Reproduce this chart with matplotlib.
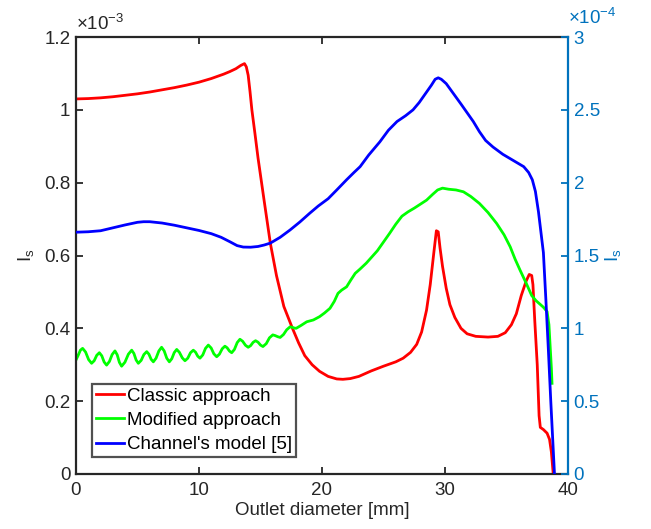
import matplotlib
matplotlib.use("Agg")
import matplotlib.pyplot as plt

plt.rcParams['font.family'] = ['Liberation Sans', 'DejaVu Sans']
plt.rcParams['mathtext.default'] = 'regular'

# ---- data (left-axis values in units of 1e-3, right-axis values in units of 1e-4) ----
classic_x = [0, 1, 2, 3, 4, 5, 6, 7, 8, 9, 10, 11, 12, 12.5, 13, 13.4, 13.7, 13.85,
             14.0, 14.15, 14.3, 14.55, 14.8, 15.3, 15.8, 16.3, 16.9, 17.6, 18.1, 18.6,
             19.2, 19.8, 20.5, 21.2, 21.7, 22.3, 23, 24, 25, 26, 26.6, 27.2, 27.7, 28.1,
             28.5, 28.8, 29.1, 29.3, 29.45, 29.6, 29.8, 30.1, 30.4, 30.8, 31.3, 31.8,
             32.5, 33.5, 34.3, 34.9, 35.4, 35.8, 36.2, 36.6, 36.85, 37.05, 37.15, 37.3,
             37.5, 37.65, 37.75, 38.0, 38.3, 38.5, 38.65, 38.8]
classic_y = [1.030, 1.031, 1.033, 1.036, 1.040, 1.044, 1.049, 1.055, 1.061, 1.068, 1.076,
             1.086, 1.098, 1.105, 1.113, 1.122, 1.127, 1.118, 1.095, 1.05, 1.0, 0.935,
             0.868, 0.75, 0.634, 0.545, 0.46, 0.40, 0.36, 0.325, 0.30, 0.282, 0.268,
             0.261, 0.260, 0.262, 0.268, 0.283, 0.296, 0.308, 0.318, 0.334, 0.356, 0.39,
             0.45, 0.52, 0.61, 0.668, 0.665, 0.62, 0.57, 0.51, 0.465, 0.43, 0.40, 0.385,
             0.378, 0.376, 0.378, 0.388, 0.41, 0.44, 0.49, 0.53, 0.548, 0.545, 0.52, 0.42,
             0.30, 0.16, 0.128, 0.122, 0.112, 0.095, 0.06, 0.0]

modified_x = [0, 0.18, 0.36, 0.54, 0.78, 1.03, 1.27, 1.48, 1.69, 1.9, 2.10, 2.29, 2.49,
              2.72, 2.94, 3.17, 3.35, 3.53, 3.71, 3.98, 4.26, 4.53, 4.71, 4.89, 5.07,
              5.30, 5.52, 5.75, 5.93, 6.11, 6.29, 6.51, 6.74, 6.96, 7.17, 7.38, 7.59,
              7.79, 7.99, 8.19, 8.41, 8.64, 8.86, 9.09, 9.31, 9.54, 9.72, 9.90, 10.08,
              10.31, 10.53, 10.76, 10.99, 11.21, 11.44, 11.66, 11.89, 12.11, 12.29,
              12.48, 12.66, 12.88, 13.11, 13.33, 13.55, 13.78, 14.0, 14.2, 14.4, 14.6,
              14.8, 15.0, 15.2, 15.47, 15.73, 16.0, 16.2, 16.4, 16.6, 16.87, 17.13, 17.4,
              17.57, 17.73, 17.9, 18.3, 18.76, 19.3, 19.8, 20.2, 20.65, 21.0, 21.3, 21.6,
              22.0, 22.35, 22.7, 23.1, 23.6, 24.0, 24.5, 25.0, 25.5, 26.0, 26.5, 27.0,
              27.5, 28.0, 28.5, 29.0, 29.4, 29.8, 30.3, 30.9, 31.5, 32.1, 32.8, 33.5,
              34.2, 34.8, 35.3, 35.7, 36.1, 36.6, 37.05, 37.4, 37.7, 38.0, 38.3, 38.45,
              38.55, 38.65, 38.7]
modified_y = [0.313, 0.326, 0.340, 0.345, 0.335, 0.314, 0.304, 0.311, 0.326, 0.333,
              0.3245, 0.3075, 0.299, 0.309, 0.328, 0.338, 0.3275, 0.3065, 0.296, 0.307,
              0.329, 0.340, 0.331, 0.313, 0.304, 0.312, 0.328, 0.336, 0.329, 0.315,
              0.308, 0.318, 0.338, 0.348, 0.338, 0.318, 0.308, 0.3165, 0.3335, 0.342,
              0.334, 0.319, 0.311, 0.318, 0.333, 0.340, 0.3345, 0.3235, 0.318, 0.327,
              0.345, 0.354, 0.346, 0.330, 0.322, 0.329, 0.344, 0.351, 0.3465, 0.3375,
              0.333, 0.342, 0.361, 0.370, 0.3645, 0.3535, 0.348, 0.3525, 0.3615, 0.366,
              0.362, 0.354, 0.350, 0.358, 0.374, 0.382, 0.380, 0.377, 0.375, 0.383,
              0.396, 0.404, 0.403, 0.401, 0.400, 0.408, 0.418, 0.423, 0.432, 0.442,
              0.455, 0.474, 0.496, 0.505, 0.514, 0.533, 0.551, 0.563, 0.579, 0.594,
              0.613, 0.637, 0.661, 0.686, 0.708, 0.720, 0.730, 0.741, 0.752, 0.768,
              0.780, 0.785, 0.782, 0.780, 0.775, 0.762, 0.743, 0.718, 0.688, 0.657,
              0.624, 0.590, 0.560, 0.524, 0.490, 0.476, 0.467, 0.458, 0.446, 0.41, 0.35,
              0.29, 0.249]

channel_x = [0, 1, 2, 3, 4, 5, 5.5, 6, 7, 8, 9, 10, 11, 11.8, 12.5, 13.1, 13.6, 14.2,
             14.8, 15.3, 15.8, 16.6, 17.4, 18.2, 19, 19.7, 20.5, 21.2, 22, 22.6, 23.1,
             23.8, 24.7, 25.4, 26.1, 26.8, 27.4, 27.9, 28.4, 28.9, 29.2, 29.45, 29.7,
             30.1, 30.7, 31.3, 31.8, 32.3, 32.8, 33.3, 33.9, 34.7, 35.5, 36.0, 36.4,
             36.8, 37.1, 37.35, 37.6, 37.8, 38.0, 38.2, 38.4, 38.6, 38.75, 38.9]
channel_y = [1.66, 1.663, 1.67, 1.69, 1.71, 1.728, 1.732, 1.732, 1.723, 1.708, 1.69,
             1.672, 1.65, 1.625, 1.595, 1.568, 1.558, 1.557, 1.562, 1.572, 1.585, 1.625,
             1.675, 1.73, 1.79, 1.84, 1.89, 1.95, 2.02, 2.07, 2.11, 2.19, 2.28, 2.36,
             2.42, 2.46, 2.50, 2.55, 2.61, 2.67, 2.71, 2.72, 2.71, 2.68, 2.61, 2.54,
             2.48, 2.42, 2.35, 2.29, 2.245, 2.195, 2.155, 2.13, 2.11, 2.07, 2.02, 1.94,
             1.80, 1.66, 1.52, 1.2, 0.86, 0.5, 0.25, 0.0]

labels = ["Classic approach", "Modified approach", "Channel's model [5]"]
x_ticks = [0, 10, 20, 30, 40]
left_ticks = [0, 0.2, 0.4, 0.6, 0.8, 1, 1.2]
right_ticks = [0, 0.5, 1, 1.5, 2, 2.5, 3]

# ---- figure ----
BLUE_AX = '#0072BD'
DARK = '#262626'
FS = 13.5

fig = plt.figure(figsize=(6.51, 5.29), dpi=100)
ax = fig.add_axes([0.1167, 0.104, 0.7558, 0.826])
ax2 = ax.twinx()

l1, = ax.plot(classic_x, classic_y, color='#FF0000', lw=2.0, label=labels[0])
l2, = ax.plot(modified_x, modified_y, color='#00FF00', lw=2.0, label=labels[1])
l3, = ax2.plot(channel_x, channel_y, color='#0000FF', lw=2.0, label=labels[2])

ax.set_xlim(0, 40)
ax.set_ylim(0, 1.2)
ax2.set_ylim(0, 3)
ax.set_xticks(x_ticks)
ax.set_xticklabels([str(t) for t in x_ticks])
ax.set_yticks(left_ticks)
ax.set_yticklabels(['0', '0.2', '0.4', '0.6', '0.8', '1', '1.2'])
ax2.set_yticks(right_ticks)
ax2.set_yticklabels(['0', '0.5', '1', '1.5', '2', '2.5', '3'])

for s in ['left', 'top', 'bottom']:
    ax.spines[s].set_color(DARK)
    ax.spines[s].set_linewidth(1.6)
ax.spines['right'].set_visible(False)
for s in ['left', 'top', 'bottom']:
    ax2.spines[s].set_visible(False)
ax2.spines['right'].set_color(BLUE_AX)
ax2.spines['right'].set_linewidth(1.6)

ax.tick_params(axis='x', direction='in', top=True, bottom=True, length=5, width=1.3,
               colors=DARK, labelsize=FS, pad=6)
ax.tick_params(axis='y', direction='in', left=True, right=False, length=5, width=1.3,
               colors=DARK, labelsize=FS, pad=4)
ax2.tick_params(axis='y', direction='in', length=5, width=1.3, colors=BLUE_AX,
                labelcolor=BLUE_AX, labelsize=FS, pad=4)

ax.set_xlabel('Outlet diameter [mm]', fontsize=FS, color=DARK, labelpad=2)
ax.set_ylabel('I$_s$', fontsize=FS, color=DARK, labelpad=6)
ax2.set_ylabel('I$_s$', fontsize=FS, color=BLUE_AX, rotation=90, labelpad=2)

ax.text(0.0, 1.008, r'$\times$10$^{-3}$', transform=ax.transAxes, fontsize=FS,
        color=DARK, ha='left', va='bottom')
ax.text(1.0, 1.02, r'$\times$10$^{-4}$', transform=ax.transAxes, fontsize=FS,
        color=BLUE_AX, ha='left', va='bottom')

leg = ax.legend(handles=[l1, l2, l3], loc='lower left', bbox_to_anchor=(0.0325, 0.039),
                borderaxespad=0, fontsize=FS, frameon=True, fancybox=False,
                handlelength=1.5, handletextpad=0.15, labelspacing=0.38, borderpad=0.2)
leg.get_frame().set_edgecolor(DARK)
leg.get_frame().set_linewidth(1.6)
leg.set_zorder(5)

fig.savefig('out.png', dpi=100)
